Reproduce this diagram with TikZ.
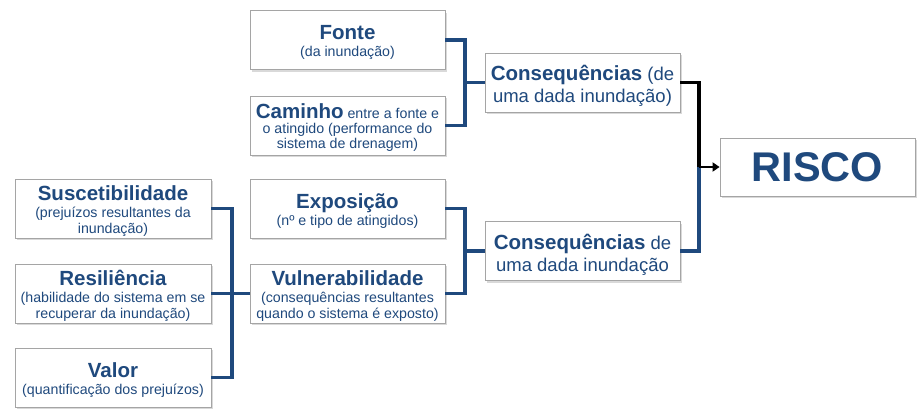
\documentclass[tikz,border=0pt]{standalone}
\usepackage{fontspec}
\setmainfont{Liberation Sans}
\usetikzlibrary{shadows,arrows.meta}
\definecolor{dblue}{RGB}{31,73,125}
\definecolor{boxline}{RGB}{165,165,165}
\newcommand{\ttl}{\fontsize{20.5}{22}\selectfont\bfseries}
\newcommand{\sbt}{\fontsize{14.2}{15.5}\selectfont\mdseries}
\newcommand{\ctl}{\fontsize{20.5}{22}\selectfont\bfseries}
\newcommand{\cst}{\fontsize{18.5}{22}\selectfont\mdseries}
\tikzset{
  box/.style={draw=boxline, line width=0.8pt, fill=white, minimum width=195pt, minimum height=59pt,
    inner sep=0pt,
    drop shadow={opacity=0.3, shadow xshift=1.5pt, shadow yshift=-2.5pt}},
  txt/.style={align=center, text=dblue, font=\sbt, inner sep=0pt, yshift=-2.5pt},
  ctxt/.style={txt, font=\cst, yshift=-1pt},
  conn/.style={draw=dblue, line width=3.5pt, line join=miter},
}
\begin{document}
\begin{tikzpicture}[x=1pt,y=-1pt]
\useasboundingbox (0,0) rectangle (924,419);
% boxes
\node[box, label={[txt]center:{{\ttl Fonte}\\[2pt]{\sbt (da inundação)}}}] (fonte) at (347.5,40) {};
\node[box, label={[txt]center:{{\ttl Caminho} {\sbt entre a fonte e}\\[-1pt]{\sbt o atingido (performance do}\\{\sbt sistema de drenagem)}}}] (caminho) at (347.5,125.5) {};
\node[box, label={[ctxt]center:{{\ctl Consequências} {\cst (de}\\{\cst uma dada inundação)}}}] (cons1) at (582.5,82.5) {};
\node[box, minimum height=58pt, label={[txt, yshift=2pt]center:{\fontsize{41.5}{42}\selectfont\bfseries RISCO}}] (risco) at (817.5,167) {};
\node[box, label={[txt]center:{{\ttl Exposição}\\[2pt]{\sbt (nº e tipo de atingidos)}}}] (expo) at (347.5,208.5) {};
\node[box, label={[txt]center:{{\ttl Vulnerabilidade}\\[1.5pt]{\sbt (consequências resultantes}\\{\sbt quando o sistema é exposto)}}}] (vuln) at (347.5,293.5) {};
\node[box, label={[ctxt]center:{{\ctl Consequências} {\cst de}\\{\cst uma dada inundação}}}] (cons2) at (582.5,251) {};
\node[box, minimum width=196pt, label={[txt]center:{{\ttl Suscetibilidade}\\[1.5pt]{\sbt (prejuízos resultantes da}\\{\sbt inundação)}}}] (susc) at (113,208.5) {};
\node[box, minimum width=196pt, label={[txt]center:{{\ttl Resiliência}\\[1.5pt]{\sbt (habilidade do sistema em se}\\{\sbt recuperar da inundação)}}}] (resi) at (113,293.5) {};
\node[box, minimum width=196pt, label={[txt]center:{{\ttl Valor}\\[2pt]{\sbt (quantificação dos prejuízos)}}}] (valor) at (113,377.5) {};
% junction coordinates
\coordinate (j1) at (465,82.5);
\coordinate (j2) at (465,251);
\coordinate (j3) at (232,293.5);
\coordinate (jr) at (699,167);
% connectors
\draw[conn] (fonte.east) -| (j1) |- (caminho.east);
\draw[conn] (j1) -- (cons1.west);
\draw[conn] (expo.east) -| (j2) |- (vuln.east);
\draw[conn] (j2) -- (cons2.west);
\draw[conn] (susc.east) -| (j3) |- (valor.east);
\draw[conn] (resi.east) -- (vuln.west);
\draw[conn] (cons2.east) -| (jr);
\draw[line width=3.5pt, black] (cons1.east) -| (jr);
\draw[line width=2.5pt, black, -{Triangle[length=7pt,width=9pt]}] (jr) -- (risco.west);
\end{tikzpicture}
\end{document}
